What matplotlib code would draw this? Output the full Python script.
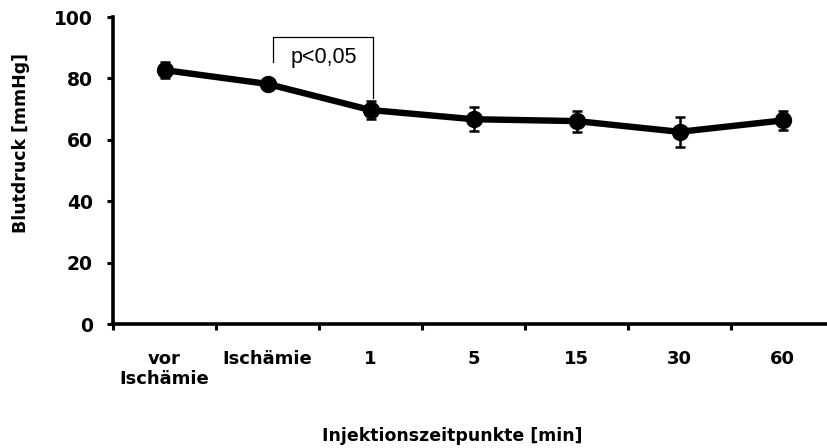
import matplotlib.pyplot as plt

# Mean arterial pressure per injection time point
labels = ['vor\nIschämie', 'Ischämie', '1', '5', '15', '30', '60']
bp_mean = [82.7, 78.2, 69.7, 66.7, 66.1, 62.6, 66.3]
bp_err = [2.7, 1.5, 3.0, 3.9, 3.4, 4.9, 3.0]

plt.rcParams['font.family'] = ['DejaVu Sans']

fig = plt.figure(figsize=(8.27, 4.48), dpi=100)
# axes run slightly past the right edge of the figure
ax = fig.add_axes([113 / 827, (448 - 324) / 448, 721 / 827, 307 / 448])

x = list(range(len(labels)))
ax.errorbar(x, bp_mean, yerr=bp_err, color='black', linewidth=4.6,
            marker='o', markersize=11.5, elinewidth=1.8, capsize=3.5,
            capthick=1.8, zorder=3)

ax.set_xlim(-0.5, len(labels) - 0.5)
ax.set_ylim(0, 100)
ax.set_yticks([0, 20, 40, 60, 80, 100])
ax.set_xticks([i - 0.5 for i in range(len(labels) + 1)])
ax.set_xticklabels([])
ax.set_xticks(x, minor=True)
ax.set_xticklabels(labels, minor=True, fontsize=13, fontweight='bold',
                   linespacing=1.15, va='top')
ax.tick_params(axis='x', which='minor', length=0, pad=19)
ax.tick_params(axis='x', which='major', length=4, width=2.2, direction='out')
ax.tick_params(axis='y', length=4.5, width=2.2, direction='out', pad=10)
for t in ax.get_yticklabels():
    t.set_fontsize(13.5)
    t.set_fontweight('bold')

for side in ['top', 'right']:
    ax.spines[side].set_visible(False)
for side in ['left', 'bottom']:
    ax.spines[side].set_linewidth(2.6)

fig.text(21 / 827, 1 - 143 / 448, 'Blutdruck [mmHg]', fontsize=12.5,
         fontweight='bold', rotation=90, ha='center', va='center')
fig.text(452 / 827, 1 - 436 / 448, 'Injektionszeitpunkte [min]', fontsize=12.5,
         fontweight='bold', ha='center', va='center')

# significance bracket between Ischämie and 1 min
ax.plot([1.05, 1.05, 2.02, 2.02], [85.3, 93.5, 93.5, 73.6], color='black',
        linewidth=0.9, zorder=2)
ax.text(1.545, 86.7, 'p<0,05', fontsize=15.5, family='Liberation Sans',
        ha='center', va='center')

fig.savefig('out.png', dpi=100)
